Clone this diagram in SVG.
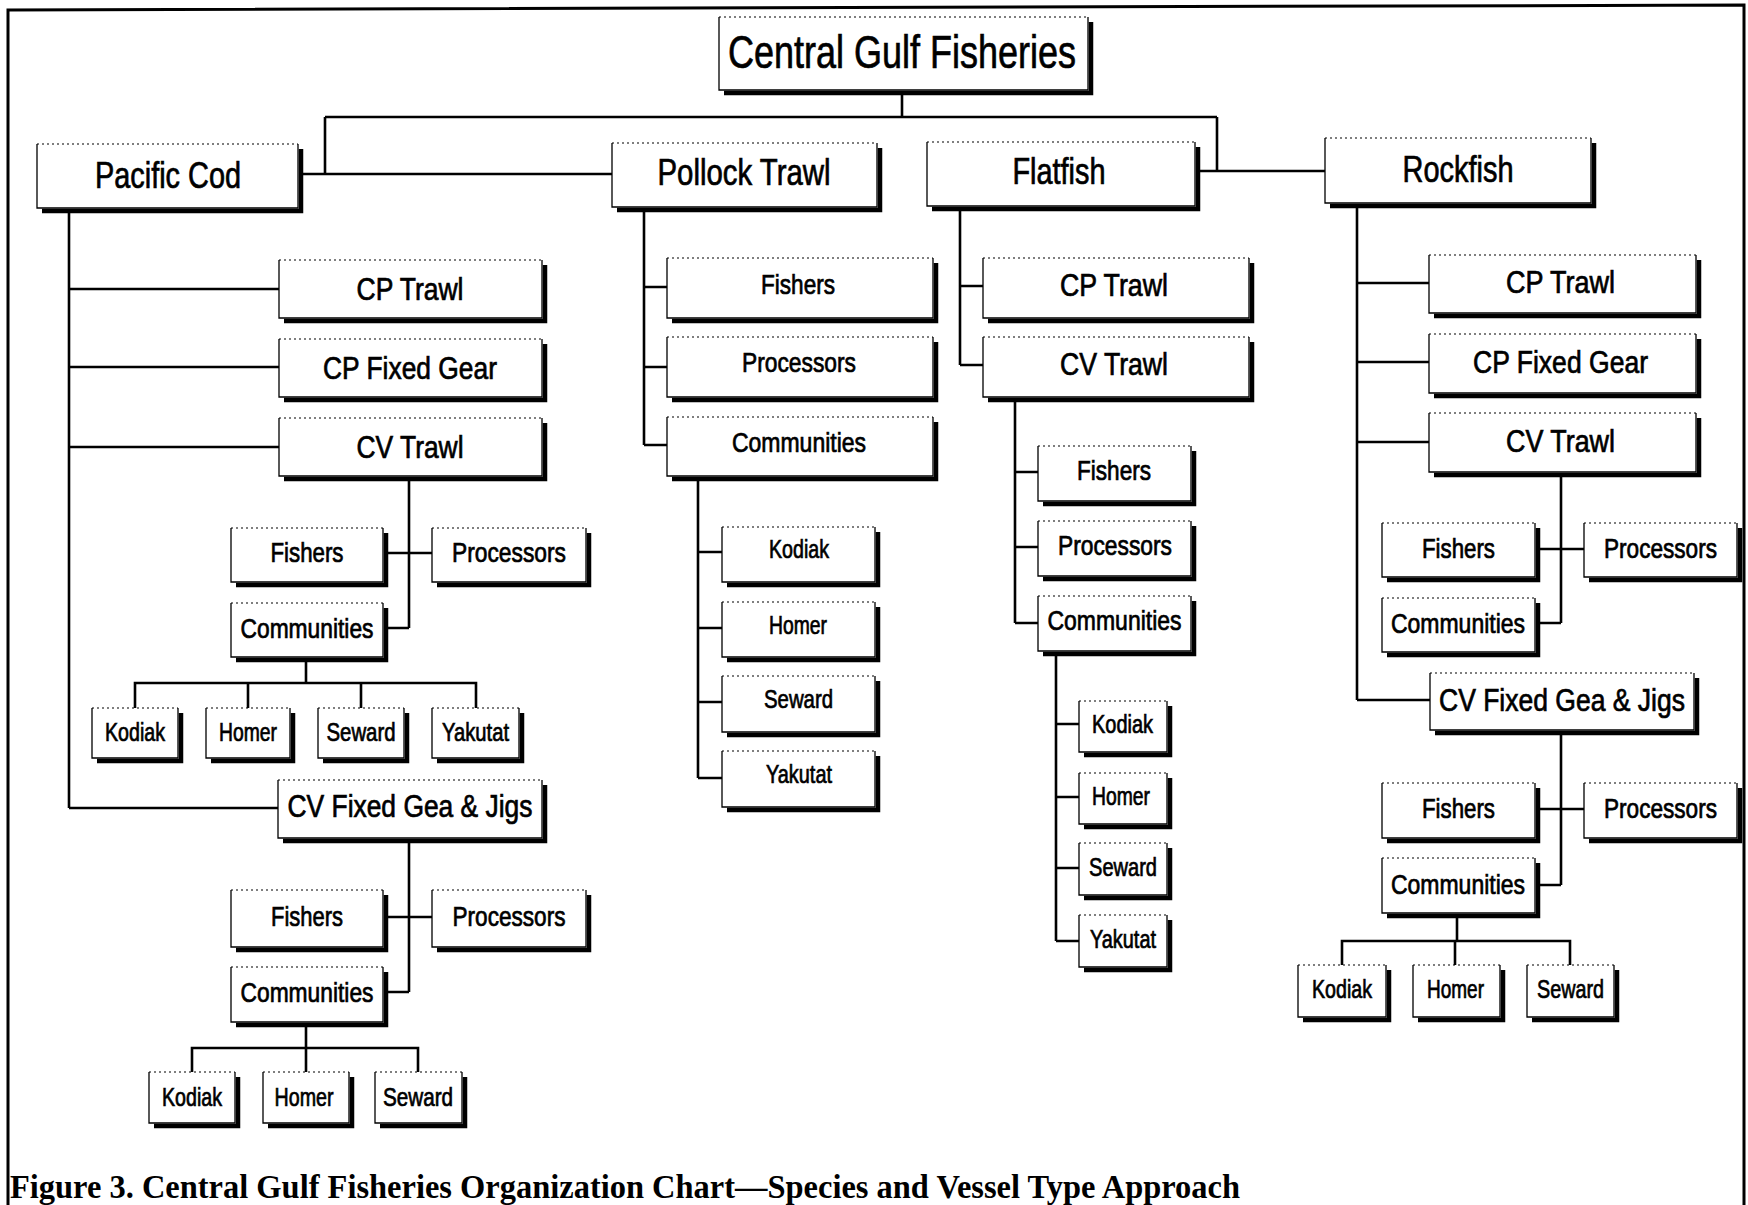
<svg xmlns="http://www.w3.org/2000/svg" width="1748" height="1205" viewBox="0 0 1748 1205">
<style>
.node rect{fill:#fff;stroke:none}
.e{fill:none;stroke:#000;stroke-width:1.3}
.t{fill:none;stroke:#000;stroke-width:1.1;stroke-dasharray:2 3}
.s{fill:none;stroke:#000;stroke-width:4.5}
.lbl{font-family:"Liberation Sans Narrow","Liberation Sans",Arial,sans-serif;text-anchor:middle;fill:#000;stroke:#000;stroke-width:0.7}
.f46{font-size:46px}.f36{font-size:36px}.f31{font-size:31px}.f27{font-size:27px}.f25{font-size:25px}
.conn path{fill:none;stroke:#000;stroke-width:2.6}
.frame{fill:none;stroke:#000;stroke-width:3}
.cap{font-family:"Liberation Serif","Times New Roman",serif;font-weight:bold;font-size:33px;fill:#000}
</style>
<rect width="1748" height="1205" fill="#fff"/>
<path class="frame" d="M8 1205 V10 L1744 5 V1205"/>
<g id="connectors" class="conn">
<path d="M902 93 V117 M325 117 H1217 M325 117 V174 M301 174 H612 M1217 117 V171 M1198 171 H1325"/>
<path d="M69 211 V808 M69 289 H279 M69 367 H279 M69 447 H279 M69 808 H278"/>
<path d="M409 479 V628 M386 553 H432 M386 628 H409 M306 660 V683 M135 708 V683 H476 V708 M248 683 V708 M361 683 V708"/>
<path d="M409 841 V992 M386 917 H432 M386 992 H409 M306 1025 V1048 M192 1072 V1048 H418 V1072 M306 1048 V1072"/>
<path d="M644 210 V445 M644 287 H667 M644 367 H667 M644 445 H667 M698 479 V778 M698 552 H722 M698 628 H722 M698 702 H722 M698 778 H722"/>
<path d="M960 209 V365 M960 286 H983 M960 365 H983 M1015 400 V623 M1015 472 H1038 M1015 547 H1038 M1015 623 H1038 M1056 654 V941 M1056 724 H1079 M1056 797 H1079 M1056 868 H1079 M1056 941 H1079"/>
<path d="M1357 206 V700 M1357 283 H1429 M1357 362 H1429 M1357 442 H1429 M1357 700 H1430 M1561 475 V623 M1538 549 H1584 M1538 623 H1561 M1561 733 V885 M1538 809 H1584 M1538 885 H1561 M1457 916 V941 M1342 965 V941 H1570 V965 M1455 941 V965"/>
</g>

<g id="root" class="node"><rect x="719" y="17" width="369" height="73"/><path class="e" d="M719 17 V90 H1088 V17"/><path class="t" d="M719 17 H1088"/><path class="s" d="M1091 22 V93 H724"/><text class="lbl f46" x="902" y="68" textLength="348" lengthAdjust="spacingAndGlyphs">Central Gulf Fisheries</text></g>

<g id="pacific-cod" class="node"><rect x="37" y="144" width="261" height="64"/><path class="e" d="M37 144 V208 H298 V144"/><path class="t" d="M37 144 H298"/><path class="s" d="M301 149 V211 H42"/><text class="lbl f36" x="168" y="188" textLength="146" lengthAdjust="spacingAndGlyphs">Pacific Cod</text></g>
<g id="pollock-trawl" class="node"><rect x="612" y="143" width="265" height="64"/><path class="e" d="M612 143 V207 H877 V143"/><path class="t" d="M612 143 H877"/><path class="s" d="M880 148 V210 H617"/><text class="lbl f36" x="744" y="185" textLength="173" lengthAdjust="spacingAndGlyphs">Pollock Trawl</text></g>
<g id="flatfish" class="node"><rect x="927" y="142" width="268" height="64"/><path class="e" d="M927 142 V206 H1195 V142"/><path class="t" d="M927 142 H1195"/><path class="s" d="M1198 147 V209 H932"/><text class="lbl f36" x="1059" y="184" textLength="93" lengthAdjust="spacingAndGlyphs">Flatfish</text></g>
<g id="rockfish" class="node"><rect x="1325" y="138" width="266" height="65"/><path class="e" d="M1325 138 V203 H1591 V138"/><path class="t" d="M1325 138 H1591"/><path class="s" d="M1594 143 V206 H1330"/><text class="lbl f36" x="1458" y="182" textLength="111" lengthAdjust="spacingAndGlyphs">Rockfish</text></g>

<g id="pc-cp-trawl" class="node"><rect x="279" y="260" width="263" height="58"/><path class="e" d="M279 260 V318 H542 V260"/><path class="t" d="M279 260 H542"/><path class="s" d="M545 265 V321 H284"/><text class="lbl f31" x="410" y="300" textLength="107" lengthAdjust="spacingAndGlyphs">CP Trawl</text></g>
<g id="pc-cp-fixed" class="node"><rect x="279" y="339" width="263" height="58"/><path class="e" d="M279 339 V397 H542 V339"/><path class="t" d="M279 339 H542"/><path class="s" d="M545 344 V400 H284"/><text class="lbl f31" x="410" y="379" textLength="174" lengthAdjust="spacingAndGlyphs">CP Fixed Gear</text></g>
<g id="pc-cv-trawl" class="node"><rect x="279" y="418" width="263" height="58"/><path class="e" d="M279 418 V476 H542 V418"/><path class="t" d="M279 418 H542"/><path class="s" d="M545 423 V479 H284"/><text class="lbl f31" x="410" y="458" textLength="107" lengthAdjust="spacingAndGlyphs">CV Trawl</text></g>
<g id="pc-cvt-fishers" class="node"><rect x="231" y="528" width="152" height="54"/><path class="e" d="M231 528 V582 H383 V528"/><path class="t" d="M231 528 H383"/><path class="s" d="M386 533 V585 H236"/><text class="lbl f27" x="307" y="562" textLength="73" lengthAdjust="spacingAndGlyphs">Fishers</text></g>
<g id="pc-cvt-processors" class="node"><rect x="432" y="528" width="154" height="54"/><path class="e" d="M432 528 V582 H586 V528"/><path class="t" d="M432 528 H586"/><path class="s" d="M589 533 V585 H437"/><text class="lbl f27" x="509" y="562" textLength="114" lengthAdjust="spacingAndGlyphs">Processors</text></g>
<g id="pc-cvt-communities" class="node"><rect x="231" y="603" width="152" height="54"/><path class="e" d="M231 603 V657 H383 V603"/><path class="t" d="M231 603 H383"/><path class="s" d="M386 608 V660 H236"/><text class="lbl f27" x="307" y="638" textLength="133" lengthAdjust="spacingAndGlyphs">Communities</text></g>
<g id="pc-cvt-kodiak" class="node"><rect x="92" y="708" width="86" height="50"/><path class="e" d="M92 708 V758 H178 V708"/><path class="t" d="M92 708 H178"/><path class="s" d="M181 713 V761 H97"/><text class="lbl f25" x="135" y="741" textLength="60" lengthAdjust="spacingAndGlyphs">Kodiak</text></g>
<g id="pc-cvt-homer" class="node"><rect x="206" y="708" width="84" height="50"/><path class="e" d="M206 708 V758 H290 V708"/><path class="t" d="M206 708 H290"/><path class="s" d="M293 713 V761 H211"/><text class="lbl f25" x="248" y="741" textLength="58" lengthAdjust="spacingAndGlyphs">Homer</text></g>
<g id="pc-cvt-seward" class="node"><rect x="318" y="708" width="86" height="50"/><path class="e" d="M318 708 V758 H404 V708"/><path class="t" d="M318 708 H404"/><path class="s" d="M407 713 V761 H323"/><text class="lbl f25" x="361" y="741" textLength="69" lengthAdjust="spacingAndGlyphs">Seward</text></g>
<g id="pc-cvt-yakutat" class="node"><rect x="432" y="708" width="87" height="50"/><path class="e" d="M432 708 V758 H519 V708"/><path class="t" d="M432 708 H519"/><path class="s" d="M522 713 V761 H437"/><text class="lbl f25" x="475.5" y="741" textLength="67" lengthAdjust="spacingAndGlyphs">Yakutat</text></g>
<g id="pc-cv-fixed" class="node"><rect x="278" y="780" width="264" height="58"/><path class="e" d="M278 780 V838 H542 V780"/><path class="t" d="M278 780 H542"/><path class="s" d="M545 785 V841 H283"/><text class="lbl f31" x="410" y="817" textLength="245" lengthAdjust="spacingAndGlyphs">CV Fixed Gea &amp; Jigs</text></g>
<g id="pc-cvf-fishers" class="node"><rect x="231" y="890" width="152" height="57"/><path class="e" d="M231 890 V947 H383 V890"/><path class="t" d="M231 890 H383"/><path class="s" d="M386 895 V950 H236"/><text class="lbl f27" x="307" y="926" textLength="72" lengthAdjust="spacingAndGlyphs">Fishers</text></g>
<g id="pc-cvf-processors" class="node"><rect x="432" y="890" width="154" height="57"/><path class="e" d="M432 890 V947 H586 V890"/><path class="t" d="M432 890 H586"/><path class="s" d="M589 895 V950 H437"/><text class="lbl f27" x="509" y="926" textLength="113" lengthAdjust="spacingAndGlyphs">Processors</text></g>
<g id="pc-cvf-communities" class="node"><rect x="231" y="967" width="152" height="55"/><path class="e" d="M231 967 V1022 H383 V967"/><path class="t" d="M231 967 H383"/><path class="s" d="M386 972 V1025 H236"/><text class="lbl f27" x="307" y="1002" textLength="133" lengthAdjust="spacingAndGlyphs">Communities</text></g>
<g id="pc-cvf-kodiak" class="node"><rect x="149" y="1072" width="86" height="51"/><path class="e" d="M149 1072 V1123 H235 V1072"/><path class="t" d="M149 1072 H235"/><path class="s" d="M238 1077 V1126 H154"/><text class="lbl f25" x="192" y="1106" textLength="60" lengthAdjust="spacingAndGlyphs">Kodiak</text></g>
<g id="pc-cvf-homer" class="node"><rect x="263" y="1072" width="86" height="51"/><path class="e" d="M263 1072 V1123 H349 V1072"/><path class="t" d="M263 1072 H349"/><path class="s" d="M352 1077 V1126 H268"/><text class="lbl f25" x="304" y="1106" textLength="59" lengthAdjust="spacingAndGlyphs">Homer</text></g>
<g id="pc-cvf-seward" class="node"><rect x="375" y="1072" width="87" height="51"/><path class="e" d="M375 1072 V1123 H462 V1072"/><path class="t" d="M375 1072 H462"/><path class="s" d="M465 1077 V1126 H380"/><text class="lbl f25" x="418" y="1106" textLength="70" lengthAdjust="spacingAndGlyphs">Seward</text></g>

<g id="pt-fishers" class="node"><rect x="667" y="258" width="266" height="60"/><path class="e" d="M667 258 V318 H933 V258"/><path class="t" d="M667 258 H933"/><path class="s" d="M936 263 V321 H672"/><text class="lbl f27" x="798" y="294" textLength="74" lengthAdjust="spacingAndGlyphs">Fishers</text></g>
<g id="pt-processors" class="node"><rect x="667" y="337" width="266" height="60"/><path class="e" d="M667 337 V397 H933 V337"/><path class="t" d="M667 337 H933"/><path class="s" d="M936 342 V400 H672"/><text class="lbl f27" x="799" y="372" textLength="114" lengthAdjust="spacingAndGlyphs">Processors</text></g>
<g id="pt-communities" class="node"><rect x="667" y="417" width="266" height="59"/><path class="e" d="M667 417 V476 H933 V417"/><path class="t" d="M667 417 H933"/><path class="s" d="M936 422 V479 H672"/><text class="lbl f27" x="799" y="452" textLength="134" lengthAdjust="spacingAndGlyphs">Communities</text></g>
<g id="pt-kodiak" class="node"><rect x="722" y="527" width="153" height="55"/><path class="e" d="M722 527 V582 H875 V527"/><path class="t" d="M722 527 H875"/><path class="s" d="M878 532 V585 H727"/><text class="lbl f25" x="799" y="558" textLength="60" lengthAdjust="spacingAndGlyphs">Kodiak</text></g>
<g id="pt-homer" class="node"><rect x="722" y="602" width="153" height="55"/><path class="e" d="M722 602 V657 H875 V602"/><path class="t" d="M722 602 H875"/><path class="s" d="M878 607 V660 H727"/><text class="lbl f25" x="798" y="634" textLength="58" lengthAdjust="spacingAndGlyphs">Homer</text></g>
<g id="pt-seward" class="node"><rect x="722" y="676" width="153" height="56"/><path class="e" d="M722 676 V732 H875 V676"/><path class="t" d="M722 676 H875"/><path class="s" d="M878 681 V735 H727"/><text class="lbl f25" x="798.5" y="708" textLength="69" lengthAdjust="spacingAndGlyphs">Seward</text></g>
<g id="pt-yakutat" class="node"><rect x="722" y="751" width="153" height="56"/><path class="e" d="M722 751 V807 H875 V751"/><path class="t" d="M722 751 H875"/><path class="s" d="M878 756 V810 H727"/><text class="lbl f25" x="799" y="783" textLength="66" lengthAdjust="spacingAndGlyphs">Yakutat</text></g>

<g id="ff-cp-trawl" class="node"><rect x="983" y="258" width="266" height="60"/><path class="e" d="M983 258 V318 H1249 V258"/><path class="t" d="M983 258 H1249"/><path class="s" d="M1252 263 V321 H988"/><text class="lbl f31" x="1114" y="296" textLength="108" lengthAdjust="spacingAndGlyphs">CP Trawl</text></g>
<g id="ff-cv-trawl" class="node"><rect x="983" y="337" width="266" height="60"/><path class="e" d="M983 337 V397 H1249 V337"/><path class="t" d="M983 337 H1249"/><path class="s" d="M1252 342 V400 H988"/><text class="lbl f31" x="1114" y="375" textLength="108" lengthAdjust="spacingAndGlyphs">CV Trawl</text></g>
<g id="ff-fishers" class="node"><rect x="1038" y="446" width="153" height="55"/><path class="e" d="M1038 446 V501 H1191 V446"/><path class="t" d="M1038 446 H1191"/><path class="s" d="M1194 451 V504 H1043"/><text class="lbl f27" x="1114" y="480" textLength="74" lengthAdjust="spacingAndGlyphs">Fishers</text></g>
<g id="ff-processors" class="node"><rect x="1038" y="521" width="153" height="55"/><path class="e" d="M1038 521 V576 H1191 V521"/><path class="t" d="M1038 521 H1191"/><path class="s" d="M1194 526 V579 H1043"/><text class="lbl f27" x="1115" y="555" textLength="114" lengthAdjust="spacingAndGlyphs">Processors</text></g>
<g id="ff-communities" class="node"><rect x="1038" y="596" width="153" height="55"/><path class="e" d="M1038 596 V651 H1191 V596"/><path class="t" d="M1038 596 H1191"/><path class="s" d="M1194 601 V654 H1043"/><text class="lbl f27" x="1114.5" y="630" textLength="134" lengthAdjust="spacingAndGlyphs">Communities</text></g>
<g id="ff-kodiak" class="node"><rect x="1079" y="701" width="88" height="51"/><path class="e" d="M1079 701 V752 H1167 V701"/><path class="t" d="M1079 701 H1167"/><path class="s" d="M1170 706 V755 H1084"/><text class="lbl f25" x="1122.5" y="733" textLength="61" lengthAdjust="spacingAndGlyphs">Kodiak</text></g>
<g id="ff-homer" class="node"><rect x="1079" y="773" width="88" height="51"/><path class="e" d="M1079 773 V824 H1167 V773"/><path class="t" d="M1079 773 H1167"/><path class="s" d="M1170 778 V827 H1084"/><text class="lbl f25" x="1121" y="805" textLength="58" lengthAdjust="spacingAndGlyphs">Homer</text></g>
<g id="ff-seward" class="node"><rect x="1079" y="843" width="88" height="52"/><path class="e" d="M1079 843 V895 H1167 V843"/><path class="t" d="M1079 843 H1167"/><path class="s" d="M1170 848 V898 H1084"/><text class="lbl f25" x="1123" y="876" textLength="68" lengthAdjust="spacingAndGlyphs">Seward</text></g>
<g id="ff-yakutat" class="node"><rect x="1079" y="915" width="88" height="52"/><path class="e" d="M1079 915 V967 H1167 V915"/><path class="t" d="M1079 915 H1167"/><path class="s" d="M1170 920 V970 H1084"/><text class="lbl f25" x="1123" y="948" textLength="66" lengthAdjust="spacingAndGlyphs">Yakutat</text></g>

<g id="rf-cp-trawl" class="node"><rect x="1429" y="255" width="267" height="58"/><path class="e" d="M1429 255 V313 H1696 V255"/><path class="t" d="M1429 255 H1696"/><path class="s" d="M1699 260 V316 H1434"/><text class="lbl f31" x="1560.5" y="293" textLength="109" lengthAdjust="spacingAndGlyphs">CP Trawl</text></g>
<g id="rf-cp-fixed" class="node"><rect x="1429" y="334" width="267" height="59"/><path class="e" d="M1429 334 V393 H1696 V334"/><path class="t" d="M1429 334 H1696"/><path class="s" d="M1699 339 V396 H1434"/><text class="lbl f31" x="1560.5" y="373" textLength="175" lengthAdjust="spacingAndGlyphs">CP Fixed Gear</text></g>
<g id="rf-cv-trawl" class="node"><rect x="1429" y="413" width="267" height="59"/><path class="e" d="M1429 413 V472 H1696 V413"/><path class="t" d="M1429 413 H1696"/><path class="s" d="M1699 418 V475 H1434"/><text class="lbl f31" x="1560.5" y="452" textLength="109" lengthAdjust="spacingAndGlyphs">CV Trawl</text></g>
<g id="rf-cvt-fishers" class="node"><rect x="1382" y="523" width="153" height="54"/><path class="e" d="M1382 523 V577 H1535 V523"/><path class="t" d="M1382 523 H1535"/><path class="s" d="M1538 528 V580 H1387"/><text class="lbl f27" x="1458.5" y="558" textLength="73" lengthAdjust="spacingAndGlyphs">Fishers</text></g>
<g id="rf-cvt-processors" class="node"><rect x="1584" y="523" width="153" height="54"/><path class="e" d="M1584 523 V577 H1737 V523"/><path class="t" d="M1584 523 H1737"/><path class="s" d="M1740 528 V580 H1589"/><text class="lbl f27" x="1660.5" y="558" textLength="113" lengthAdjust="spacingAndGlyphs">Processors</text></g>
<g id="rf-cvt-communities" class="node"><rect x="1382" y="598" width="153" height="54"/><path class="e" d="M1382 598 V652 H1535 V598"/><path class="t" d="M1382 598 H1535"/><path class="s" d="M1538 603 V655 H1387"/><text class="lbl f27" x="1458" y="633" textLength="134" lengthAdjust="spacingAndGlyphs">Communities</text></g>
<g id="rf-cv-fixed" class="node"><rect x="1430" y="673" width="264" height="57"/><path class="e" d="M1430 673 V730 H1694 V673"/><path class="t" d="M1430 673 H1694"/><path class="s" d="M1697 678 V733 H1435"/><text class="lbl f31" x="1562" y="711" textLength="246" lengthAdjust="spacingAndGlyphs">CV Fixed Gea &amp; Jigs</text></g>
<g id="rf-cvf-fishers" class="node"><rect x="1382" y="783" width="153" height="55"/><path class="e" d="M1382 783 V838 H1535 V783"/><path class="t" d="M1382 783 H1535"/><path class="s" d="M1538 788 V841 H1387"/><text class="lbl f27" x="1458.5" y="818" textLength="73" lengthAdjust="spacingAndGlyphs">Fishers</text></g>
<g id="rf-cvf-processors" class="node"><rect x="1584" y="783" width="153" height="55"/><path class="e" d="M1584 783 V838 H1737 V783"/><path class="t" d="M1584 783 H1737"/><path class="s" d="M1740 788 V841 H1589"/><text class="lbl f27" x="1660.5" y="818" textLength="113" lengthAdjust="spacingAndGlyphs">Processors</text></g>
<g id="rf-cvf-communities" class="node"><rect x="1382" y="858" width="153" height="55"/><path class="e" d="M1382 858 V913 H1535 V858"/><path class="t" d="M1382 858 H1535"/><path class="s" d="M1538 863 V916 H1387"/><text class="lbl f27" x="1458" y="894" textLength="134" lengthAdjust="spacingAndGlyphs">Communities</text></g>
<g id="rf-kodiak" class="node"><rect x="1298" y="965" width="88" height="52"/><path class="e" d="M1298 965 V1017 H1386 V965"/><path class="t" d="M1298 965 H1386"/><path class="s" d="M1389 970 V1020 H1303"/><text class="lbl f25" x="1342" y="998" textLength="60" lengthAdjust="spacingAndGlyphs">Kodiak</text></g>
<g id="rf-homer" class="node"><rect x="1413" y="965" width="87" height="52"/><path class="e" d="M1413 965 V1017 H1500 V965"/><path class="t" d="M1413 965 H1500"/><path class="s" d="M1503 970 V1020 H1418"/><text class="lbl f25" x="1455.5" y="998" textLength="57" lengthAdjust="spacingAndGlyphs">Homer</text></g>
<g id="rf-seward" class="node"><rect x="1527" y="965" width="87" height="52"/><path class="e" d="M1527 965 V1017 H1614 V965"/><path class="t" d="M1527 965 H1614"/><path class="s" d="M1617 970 V1020 H1532"/><text class="lbl f25" x="1570.5" y="998" textLength="67" lengthAdjust="spacingAndGlyphs">Seward</text></g>

<text class="cap" x="10" y="1198" textLength="1230" lengthAdjust="spacingAndGlyphs">Figure 3. Central Gulf Fisheries Organization Chart—Species and Vessel Type Approach</text>
</svg>
